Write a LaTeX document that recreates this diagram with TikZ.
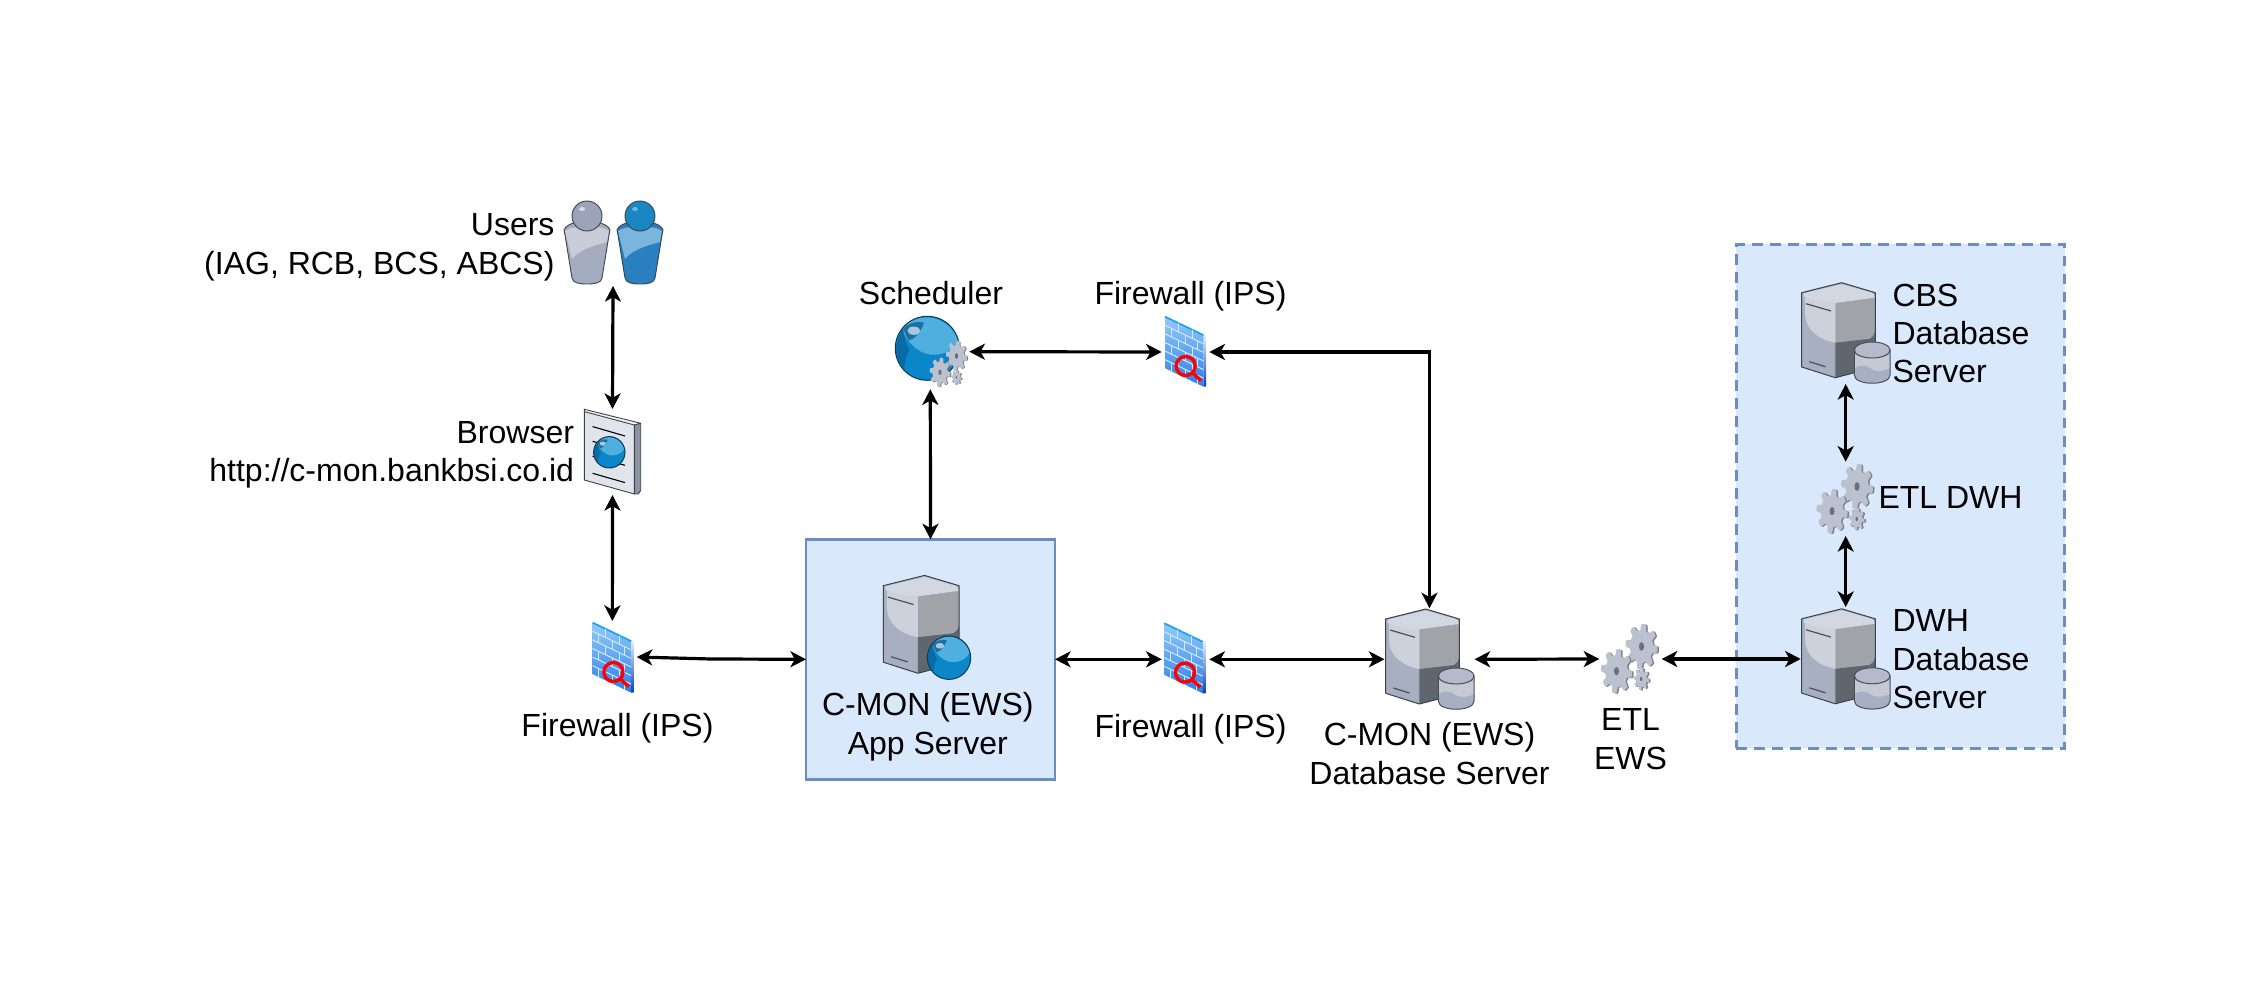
\documentclass[tikz,border=0pt]{standalone}
\usepackage{fontspec}
\setmainfont{Liberation Sans}
\usetikzlibrary{arrows.meta,fit}
\definecolor{boxfill}{HTML}{DAE8FC}
\definecolor{boxline}{HTML}{6C8EBF}
\definecolor{edgedark}{HTML}{3C4248}
\definecolor{gearlight}{HTML}{BCC1CF}
\definecolor{geardark}{HTML}{7E828A}
\newcommand{\gearat}[3]{%
  \fill[geardark] plot[domain=0:360,samples=129] ({#1+1.6+#3*(0.86+0.14*max(-1,min(1,2.2*sin(8*\x+22))))*cos(\x)},{#2+0.5+1.42*#3*(0.86+0.14*max(-1,min(1,2.2*sin(8*\x+22))))*sin(\x)}) -- cycle;
  \fill[gearlight] plot[domain=0:360,samples=129] ({#1+#3*(0.86+0.14*max(-1,min(1,2.2*sin(8*\x+22))))*cos(\x)},{#2+1.42*#3*(0.86+0.14*max(-1,min(1,2.2*sin(8*\x+22))))*sin(\x)}) -- cycle;
  \fill[HTML=6B7080] (#1,#2) ellipse [x radius=0.16*#3,y radius=0.27*#3];
}
\tikzset{
  HTML/.code={\definecolor{tmpc}{HTML}{#1}\pgfkeysalso{color=tmpc}},
  link/.style={line width=1.6pt,black,{Stealth[length=7.8pt,width=8pt,inset=2.2pt]}-{Stealth[length=7.8pt,width=8pt,inset=2.2pt]}},
  anchorbox/.style={inner sep=0pt,outer sep=0pt},
  lbl/.style={inner sep=0pt,outer sep=0pt,font=\fontsize{16pt}{19.2pt}\selectfont,text=black},
  pics/gears/.style={code={
    \gearat{0}{0}{16}\gearat{-25}{24.7}{15.6}\gearat{-0.3}{32.5}{7.8}
  }},
  pics/personicon/.style n args={4}{code={
    \path[fill=#1] (-23,14) .. controls (-22,10) and (-15,7) .. (-10,6) -- (10,6) .. controls (15,7) and (22,10) .. (23,14) .. controls (23,16) and (22.5,17) .. (22,19) -- (15,62) .. controls (14,67) and (8,68) .. (0,68) .. controls (-8,68) and (-14,67) .. (-15,62) -- (-22,19) .. controls (-22.5,17) and (-23,16) .. (-23,14) -- cycle;
    \path[fill=#2] (-22,15) .. controls (-15,9) and (15,9) .. (22,15) -- (20,26) .. controls (5,30) and (-8,34) .. (-15,43) -- cycle;
    \draw[edgedark,line width=0.45pt] (-23,14) .. controls (-22,10) and (-15,7) .. (-10,6) -- (10,6) .. controls (15,7) and (22,10) .. (23,14) .. controls (23,16) and (22.5,17) .. (22,19) -- (15,62) .. controls (14,67) and (8,68) .. (0,68) .. controls (-8,68) and (-14,67) .. (-15,62) -- (-22,19) .. controls (-22.5,17) and (-23,16) .. (-23,14) -- cycle;
    \draw[edgedark,line width=0.45pt,fill=#3] (0,0) circle (15);
    \path[fill=#4] (-5,-7) ellipse [x radius=3,y radius=2];
  }},
  pics/globe/.style={code={
    \fill[HTML=0B86C8] (0,0) circle (1);
    \fill[HTML=4FB0E0] (-0.78,-0.55) .. controls (-0.6,-0.2) and (-0.3,0.2) .. (0.2,0.2) .. controls (0.6,0.2) and (0.85,0.0) .. (0.96,-0.25) .. controls (0.8,-0.7) and (0.4,-0.95) .. (0,-0.97) .. controls (-0.4,-0.95) and (-0.65,-0.8) .. cycle;
    \fill[HTML=0A6AA5] (-0.98,0.1) .. controls (-0.98,-0.2) and (-0.85,-0.5) .. (-0.75,-0.6) .. controls (-0.72,-0.3) and (-0.65,-0.1) .. (-0.55,0.05) .. controls (-0.65,0.2) and (-0.7,0.4) .. (-0.72,0.65) .. controls (-0.85,0.5) and (-0.95,0.3) .. cycle;
    \fill[HTML=1D6F9F] (-0.75,-0.6) .. controls (-0.6,-0.8) and (-0.35,-0.85) .. (-0.1,-0.8) .. controls (-0.2,-0.55) and (-0.35,-0.3) .. (-0.58,-0.25) .. controls (-0.65,-0.35) and (-0.7,-0.5) .. cycle;
    \fill[HTML=A6C8DC] (-0.42,-0.55) ellipse [x radius=0.2,y radius=0.13];
    \draw[HTML=0D3C55,line width=0.5pt] (0,0) circle (1);
  }},
  pics/serverbox/.style={code={
    \fill[HTML=A8AFC1] (0,0) -- (40,-10) -- (73.6,0) -- (73.6,74.6) -- (33.6,85) -- (0,74.3) -- cycle;
    \fill[HTML=A0A3A7] (33.6,10.3) -- (73.6,0) -- (73.6,44) -- (33.6,50) -- cycle;
    \fill[HTML=5F666E] (33.6,50) -- (68,46) .. controls (71,45) and (72,43) .. (73.6,38) -- (73.6,74.6) -- (33.6,85) -- cycle;
    \fill[HTML=CDD1DC] (3.5,5) -- (33.6,10.3) -- (33.6,50) .. controls (18,47) and (4,38) .. (3.5,22) -- cycle;
    \fill[HTML=D3D7E2] (2,0.5) -- (40,-8.5) -- (70,0) .. controls (73,1) and (73,3) .. (73,5) -- (33.6,10.3) .. controls (20,9) and (8,7) .. (2,4) -- cycle;
    \draw[HTML=4A5058,line width=0.6pt] (4.3,11) -- (29.3,18.3) (7.7,69) -- (23.7,74);
    \draw[edgedark,line width=0.5pt,line join=round] (0,0) -- (40,-10) -- (73.6,0) -- (73.6,74.6) -- (33.6,85) -- (0,74.3) -- cycle;
  }},
  pics/cyl/.style={code={
    \path[fill=cylbody] (-17.85,-12.5) -- (-17.85,12.5) .. controls (-17.85,23.5) and (17.85,23.5) .. (17.85,12.5) -- (17.85,-12.5) -- cycle;
    \fill[HTML=A9AFC2] (-17.85,6) .. controls (-10,1) and (-6,3) .. (0,7) .. controls (6,10) and (12,8) .. (17.85,6) -- (17.85,12.5) .. controls (17.85,23.5) and (-17.85,23.5) .. (-17.85,12.5) -- cycle;
    \fill[HTML=B4BACB] (0,-12.5) ellipse [x radius=17.85,y radius=8];
    \fill[HTML=B4BACB] (-17.85,-12.5) -- (-17.85,-8) .. controls (-10,-3) and (10,-3) .. (17.85,-8) -- (17.85,-12.5) -- cycle;
    \draw[HTML=4A5058,line width=0.5pt] (-17.85,-12.5) -- (-17.85,12.5) .. controls (-17.85,23.5) and (17.85,23.5) .. (17.85,12.5) -- (17.85,-12.5);
    \draw[HTML=4A5058,line width=0.5pt] (0,-12.5) ellipse [x radius=17.85,y radius=8];
  }},
  pics/fwall/.style={code={
    \shade[top color=fwtop,bottom color=fwbot] (0,0) -- (38.5,18.5) -- (38.5,70) -- (0,51.5) -- cycle;
    \shade[top color=fwedgetop,bottom color=fwedgebot] (38.5,18.5) -- (41,18) -- (41,70) -- (38.5,70) -- cycle;
    \draw[HTML=20A4EE,line width=0.9pt] (0,0) -- (38.5,18.5);
    \foreach \r in {1,...,5}{
      \draw[HTML=D5E9FC,line width=0.5pt] (0,{\r*8.6}) -- (38.5,{\r*8.6+18.5});
    }
    \foreach \r/\a/\b in {0/13/27,1/6/20,1/32/32,2/13/27,3/6/20,3/32/32,4/13/27,5/6/20,5/32/32}{
      \draw[HTML=D5E9FC,line width=0.5pt] (\a,{\r*8.6+0.48*\a}) -- (\a,{(\r+1)*8.6+0.48*\a});
      \draw[HTML=D5E9FC,line width=0.5pt] (\b,{\r*8.6+0.48*\b}) -- (\b,{(\r+1)*8.6+0.48*\b});
    }
    \draw[red,line width=1.7pt] (20.7,49.3) circle (9.5);
    \draw[red,line width=1.7pt] (27.5,56) -- (36,64);
  }},
  pics/docu/.style={code={
    \fill[HTML=8A92A4] (50,14) -- (56.4,14) -- (56.4,81) -- (54,84.7) -- (50,84.7) -- cycle;
    \fill[HTML=F4F5F8] (0,0) -- (56.4,14) -- (50,15.7) -- (0,2.3) -- cycle;
    \path[fill=docface,draw=edgedark,line width=0.45pt,line join=round] (0,2.3) -- (50,15.7) -- (50,84.7) -- (0,70.7) -- cycle;
    \draw[edgedark,line width=0.45pt,line join=round] (0,2.3) -- (0,0) -- (56.4,14) -- (56.4,81) -- (54,84.7) -- (50,84.7) (50,15.7) -- (56.4,14);
    \draw[black,line width=0.55pt] (8.3,17.3) -- (40.7,26.7) (8.3,32) -- (40.7,41) (8.3,47) -- (40.7,56) (8.3,64) -- (40.7,73.3);
  }},
}
\definecolor{cylbody}{HTML}{C6C9D4}
\definecolor{docface}{HTML}{E2E4EC}
\definecolor{fwtop}{HTML}{93CBF7}
\definecolor{fwbot}{HTML}{2A7EEC}
\definecolor{fwedgetop}{HTML}{E4F2FF}
\definecolor{fwedgebot}{HTML}{0F3FB0}
\definecolor{pbase}{HTML}{A4ACC0}
\definecolor{plight}{HTML}{C9CDD9}
\definecolor{phead}{HTML}{9AA3B8}
\definecolor{phi}{HTML}{D5DAE5}
\definecolor{bbase}{HTML}{2A7FC0}
\definecolor{blight}{HTML}{7AB5DE}
\definecolor{bhead}{HTML}{1A86C2}
\definecolor{bhi}{HTML}{6BB8E4}
\begin{document}
\begin{tikzpicture}[x=0.5pt,y=-0.5pt]
\useasboundingbox (0,0) rectangle (2266,994);
\fill[white] (0,0) rectangle (2266,994);
% group panels
\node[anchorbox,fit={(1736.3,244.5)(2064.5,748.3)},draw=boxline,fill=boxfill,line width=1.45pt,dash pattern=on 5.2pt off 3.8pt] (group) {};
\node[anchorbox,fit={(806,539.3)(1055,779.3)},draw=boxline,fill=boxfill,line width=1.45pt] (app) {};
% anchor boxes of the icons
\node[anchorbox,fit={(564,190)(662,286)}] (users) {};
\node[anchorbox,fit={(584,409)(641,495)}] (browser) {};
\node[anchorbox,fit={(588,621)(636.7,693)}] (fwa) {};
\node[anchorbox,fit={(891.3,314.1)(969.3,389.3)}] (sched) {};
\node[anchorbox,fit={(1161.7,316)(1209.3,388)}] (fwb) {};
\node[anchorbox,fit={(1161.7,623.3)(1209.3,695.3)}] (fwc) {};
\node[anchorbox,fit={(1384.5,608.3)(1474.5,710.3)}] (db) {};
\node[anchorbox,fit={(1599.3,628)(1661.7,690)}] (etl) {};
\node[anchorbox,fit={(1800.7,607)(1890.7,711)}] (dwh) {};
\node[anchorbox,fit={(1815.7,461.7)(1875.7,536)}] (etld) {};
\node[anchorbox,fit={(1800.7,282)(1890.7,384)}] (cbs) {};
% icons
\pic at (587,216) {personicon={pbase}{plight}{phead}{phi}};
\pic at (640,216) {personicon={bbase}{blight}{bhead}{bhi}};
\pic at (584.3,409.3) {docu};
\pic[scale=15.7] at (609.3,452.3) {globe};
\pic at (592.7,622.7) {fwall};
\pic at (1165,316.7) {fwall};
\pic at (1164.3,623.3) {fwall};
\pic[scale=32] at (927.3,348.3) {globe};
\pic[scale=0.66] at (956.5,356) {gears};
\pic[scale=1.03] at (883.3,585.7) {serverbox};
\pic[scale=21.7] at (949,657.7) {globe};
\pic at (1385.7,619) {serverbox};
\pic at (1456.2,688.5) {cyl};
\pic at (1801.7,618.8) {serverbox};
\pic at (1872.2,688.3) {cyl};
\pic at (1801.7,292.7) {serverbox};
\pic at (1872.2,362.5) {cyl};
\pic at (1641.5,646.5) {gears};
\pic at (1857,486.5) {gears};
% connectors
\coordinate (kink) at (711,659);
\draw[link] (users.south) -- (browser.north);
\draw[link] (browser.south) -- (fwa.north);
\draw[link] (fwa.east) -- (kink) -- (app.west);
\draw[link] (app.north) -- (sched.south);
\draw[link] (sched.east) -- (fwb.west);
\draw[link] (fwb.east) -| (db.north);
\draw[link] (app.east) -- (fwc.west);
\draw[link] (fwc.east) -- (db.west);
\draw[link] (db.east) -- (etl.west);
\draw[link] (etl.east) -- (dwh.west);
\draw[link] (cbs.south) -- (etld.north);
\draw[link] (etld.south) -- (dwh.north);
% labels
\node[lbl,align=right,anchor=base east] (tusers) at (554.5,274.3) {Users\\(IAG, RCB, BCS, ABCS)};
\node[lbl,align=right,anchor=base east] (tbrowser) at (574,481.7) {Browser\\http://c-mon.bankbsi.co.id};
\node[lbl,anchor=base] (tfwa) at (617.5,736.7) {Firewall (IPS)};
\node[lbl,anchor=base] (tsched) at (931,304.3) {Scheduler};
\node[lbl,anchor=base] (tfwb) at (1190.5,304.5) {Firewall (IPS)};
\node[lbl,anchor=base] (tfwc) at (1190.5,737) {Firewall (IPS)};
\node[lbl,align=center,anchor=base] (tapp) at (927.8,754) {C-MON (EWS)\\App Server};
\node[lbl,align=center,anchor=base] (tdb) at (1429.5,784) {C-MON (EWS)\\Database Server};
\node[lbl,align=center,anchor=base] (tetl) at (1630.5,769) {ETL\\EWS};
\node[lbl,align=left,anchor=base west] (tcbs) at (1892.5,383) {CBS\\Database\\Server};
\node[lbl,align=left,anchor=base west] (tdwh) at (1892.5,708.5) {DWH\\Database\\Server};
\node[lbl,anchor=base west] (tetld) at (1878.5,509) {ETL DWH};
\end{tikzpicture}
\end{document}
